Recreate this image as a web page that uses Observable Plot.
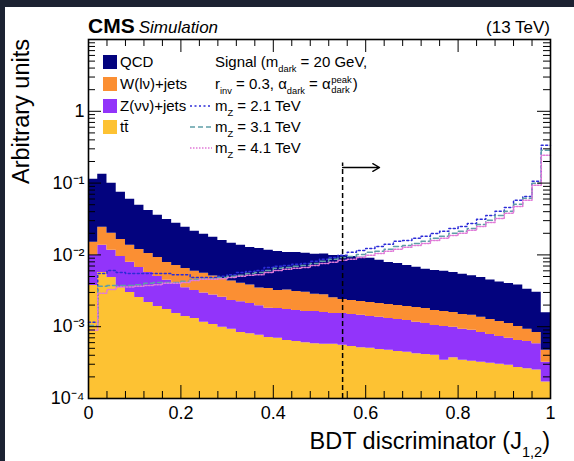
<!DOCTYPE html>
<html><head><meta charset="utf-8">
<script src="https://cdn.jsdelivr.net/npm/d3@7"></script>
<script src="https://cdn.jsdelivr.net/npm/@observablehq/plot@0.6"></script>
<style>
html,body{margin:0;padding:0;background:#1c2232;width:574px;height:461px;overflow:hidden}
#panel{position:absolute;left:5px;top:7px;width:569px;height:454px;background:#fff}
#chart{position:absolute;left:0;top:0}
</style></head><body><div id="panel"></div><div id="chart"></div>
<script>
// ---- data (50 bins on BDT discriminator 0..1) ----
const nBins = 50;
const ttbar = [0.00376,0.0057,0.00485,0.00352,0.0030,0.00256,0.00218,0.00191,0.00174,0.00153,
  0.00139,0.0013,0.00115,0.00107,0.00098,0.00092,0.00083,0.0008,0.00076,0.00071,
  0.00069,0.00064,0.00062,0.0006,0.00058,0.00057,0.00057,0.00055,0.00053,0.00051,
  0.0005,0.00048,0.00047,0.00045,0.00044,0.00042,0.00041,0.0004,0.00034,0.00037,
  0.00034,0.00033,0.00032,0.00031,0.0003,0.00029,0.00027,0.00026,0.00025,0.00017];
const zjets = [0.0061,0.0079,0.0068,0.0060,0.0049,0.0041,0.0035,0.0031,0.0027,0.0025,
  0.0021,0.0019,0.0018,0.0017,0.0016,0.0014,0.0014,0.0013,0.0012,0.0011,
  0.0011,0.0011,0.00106,0.00103,0.00105,0.00101,0.00096,0.00098,0.00095,0.00093,
  0.00089,0.00087,0.00083,0.00081,0.00078,0.00073,0.0007,0.00064,0.00067,0.00061,
  0.00058,0.00056,0.00051,0.00047,0.00043,0.0004,0.00037,0.00036,0.00033,0.00015];
const wjets = [0.0051,0.0106,0.0084,0.0069,0.0057,0.0052,0.0048,0.0042,0.0034,0.0031,
  0.0030,0.0027,0.0026,0.0023,0.0021,0.0020,0.0018,0.0017,0.0015,0.0016,
  0.0014,0.0015,0.0014,0.0014,0.0012,0.0012,0.0010,0.00087,0.00084,0.00081,
  0.00079,0.00076,0.00074,0.00072,0.00069,0.0007,0.00068,0.00064,0.00062,0.0006,
  0.00056,0.00055,0.00052,0.00048,0.00045,0.00042,0.00037,0.0003,0.00025,0.00015];
const qcd = [0.0978,0.1082,0.0793,0.0579,0.0459,0.0371,0.0312,0.0264,0.0234,0.0204,
  0.0177,0.0154,0.0138,0.0125,0.0112,0.0102,0.0096,0.0089,0.0088,0.0082,
  0.0080,0.0076,0.0077,0.0075,0.0074,0.0075,0.0073,0.0074,0.0072,0.0070,
  0.0068,0.0063,0.0058,0.0056,0.0052,0.0049,0.0045,0.0044,0.0043,0.0041,
  0.0039,0.0037,0.0035,0.0032,0.0030,0.0029,0.0028,0.0024,0.0022,0.0011];
const sigMZ21 = [0.00115,0.0055,0.00605,0.00567,0.0055,0.0055,0.0055,0.0055,0.0055,0.00531,
  0.00531,0.00485,0.00485,0.00485,0.00504,0.00531,0.00567,0.00586,0.00605,0.00668,
  0.00696,0.00713,0.00741,0.0076,0.00813,0.00868,0.00923,0.00986,0.01086,0.01156,
  0.0123,0.0131,0.01403,0.01545,0.0159,0.0170,0.01816,0.0199,0.0213,0.0234,
  0.0249,0.0274,0.0313,0.0355,0.0404,0.0459,0.0575,0.0653,0.106,0.336];
const sigMZ31 = [0.00104,0.00366,0.00375,0.00375,0.00375,0.00385,0.00403,0.00412,0.00412,0.00412,
  0.0043,0.00458,0.00467,0.00467,0.00485,0.00504,0.00522,0.0055,0.00568,0.00605,
  0.0065,0.0067,0.00696,0.00714,0.0076,0.00815,0.0087,0.00923,0.0095,0.01015,
  0.01087,0.01123,0.01195,0.0131,0.01356,0.01446,0.01545,0.017,0.01815,0.01997,
  0.02133,0.0234,0.0266,0.0303,0.0355,0.0404,0.0506,0.0615,0.0992,0.287];
const sigMZ41 = [0.00089,0.00293,0.0033,0.00357,0.00357,0.00366,0.00375,0.00385,0.00403,0.00403,
  0.00412,0.0044,0.00458,0.00458,0.00467,0.00485,0.00504,0.00522,0.00531,0.00568,
  0.00605,0.00633,0.0065,0.0067,0.00714,0.0076,0.00788,0.00842,0.0087,0.00923,
  0.00987,0.0105,0.01123,0.01195,0.01276,0.01356,0.01446,0.0159,0.017,0.0187,
  0.020,0.022,0.0249,0.0283,0.0322,0.0379,0.0473,0.0576,0.093,0.244];
const bkgNames = ["t\u0074\u0304", "Z(\u03bd\u03bd)+jets", "W(l\u03bd)+jets", "QCD"]; // bottom -> top
const bkgColors = ["#fdc233", "#9234fa", "#fb8f33", "#03037e"];
const sigColors = ["#2c2cd8", "#5f9ea8", "#e17ad8"];
const sigDash = ["2,2.5", "5,3", "1.5,1.5"];
const xTickValues = [0, 0.2, 0.4, 0.6, 0.8, 1];
const xTickLabels = ["0", "0.2", "0.4", "0.6", "0.8", "1"];
const yTickValues = [1e-4, 1e-3, 1e-2, 1e-1, 1];
const yTickLabels = ["10\u207b\u2074", "10\u207b\u00b3", "10\u207b\u00b2", "10\u207b\u00b9", "1"];
const yDomain = [1e-4, 10];
const cutValue = 0.55;      // BDT working point
const cutTop = 0.19;        // top of the dashed line (arbitrary units)
const arrowEnd = 0.63;
const arrowLevel = 0.165;

// ---- build histogram tables (stacked: ttbar at bottom) ----
const bkgSeries = [ttbar, zjets, wjets, qcd];
const edges = d3.range(nBins + 1).map(i => i / nBins);
const stackRows = [];
bkgSeries.forEach((vals, s) => {
  for (let i = 0; i <= nBins; i++) {
    const b = Math.min(i, nBins - 1);
    let below = 0;
    for (let k = 0; k < s; k++) below += bkgSeries[k][b];
    const lo = s === 0 ? yDomain[0] : below;
    const hi = below + vals[b];
    stackRows.push({series: bkgNames[s], x: edges[i], lo, hi});
  }
});
const sigSeries = [sigMZ21, sigMZ31, sigMZ41];
const sigRows = sigSeries.map(vals => edges.map((x, i) => ({x, v: vals[Math.min(i, nBins - 1)]})));

// tick positions
const xMinor = d3.range(0, 26).map(i => i * 0.04).filter(d => Math.abs(d * 5 - Math.round(d * 5)) > 1e-6);
const yMinor = [];
[1e-4, 1e-3, 1e-2, 1e-1, 1].forEach(dec => { for (let m = 2; m <= 9; m++) yMinor.push(dec * m); });
const yMajor = [1e-4, 1e-3, 1e-2, 1e-1, 1, 10];

const W = 574, H = 461, mL = 88, mR = 24, mT = 39, mB = 63;
const fw = W - mL - mR, fh = H - mT - mB;
const font = "'Liberation Sans', Arial, Helvetica, sans-serif";

const marks = [];
bkgNames.forEach((name, s) => {
  marks.push(Plot.areaY(stackRows.filter(r => r.series === name), {
    x: "x", y1: "lo", y2: "hi", curve: "step-after", fill: bkgColors[s]
  }));
});
sigRows.forEach((rows, j) => {
  marks.push(Plot.line(rows, {x: "x", y: "v", curve: "step-after", stroke: sigColors[j], strokeWidth: 1.5, strokeDasharray: sigDash[j]}));
});
marks.push(
  Plot.ruleX([cutValue], {y1: yDomain[0], y2: cutTop, stroke: "#000", strokeWidth: 1.5, strokeDasharray: "5,3"}),
  Plot.arrow([{x1: cutValue, x2: arrowEnd, y: arrowLevel}], {x1: "x1", x2: "x2", y1: "y", y2: "y", stroke: "#000", strokeWidth: 1.3, headLength: 9}),
  Plot.tickX(xTickValues, {x: d => d, insetTop: fh - 13, stroke: "#000"}),
  Plot.tickX(xTickValues, {x: d => d, insetBottom: fh - 13, stroke: "#000"}),
  Plot.tickX(xMinor, {x: d => d, insetTop: fh - 7, stroke: "#000"}),
  Plot.tickX(xMinor, {x: d => d, insetBottom: fh - 7, stroke: "#000"}),
  Plot.tickY(yMajor, {y: d => d, insetRight: fw - 13, stroke: "#000"}),
  Plot.tickY(yMajor, {y: d => d, insetLeft: fw - 13, stroke: "#000"}),
  Plot.tickY(yMinor, {y: d => d, insetRight: fw - 7, stroke: "#000"}),
  Plot.tickY(yMinor, {y: d => d, insetLeft: fw - 7, stroke: "#000"}),
  Plot.frame({stroke: "#000", strokeWidth: 1.6})
);

const plot = Plot.plot({
  width: W, height: H,
  marginLeft: mL, marginRight: mR, marginTop: mT, marginBottom: mB,
  style: {background: "transparent", fontFamily: font, fontSize: "18px", color: "#000"},
  x: {domain: [0, 1], ticks: xTickValues, tickSize: 0, tickPadding: 8,
      tickFormat: d => xTickLabels[xTickValues.indexOf(d)], label: null},
  y: {type: "log", domain: yDomain, ticks: yTickValues, tickSize: 0, tickPadding: 4,
      tickFormat: d => yTickLabels[yTickValues.indexOf(d)], label: null},
  marks
});
document.getElementById("chart").appendChild(plot);

// ---- texts and legend ----
const svg = d3.select(plot);
const g = svg.append("g").attr("font-family", font).attr("fill", "#000");

function rich(x, y, parts, size, anchor) {
  const t = g.append("text").attr("x", x).attr("y", y).attr("font-size", size)
    .attr("text-anchor", anchor || "start");
  let shift = 0;
  parts.forEach(p => {
    let target = 0, fs = size, txt = p;
    if (typeof p !== "string") {
      if (p.sub !== undefined) { target = size * 0.32; fs = size * 0.62; txt = p.sub; }
      if (p.sup !== undefined) { target = -size * 0.42; fs = size * 0.62; txt = p.sup; }
    }
    t.append("tspan").attr("dy", target - shift).attr("font-size", fs).text(txt);
    shift = target;
  });
  return t;
}

const cms = rich(mL, 33, ["CMS"], 21).attr("font-weight", "bold");
const cmsLen = cms.node().getComputedTextLength();
rich(mL + cmsLen + 4, 33, ["Simulation"], 17).attr("font-style", "italic");
rich(W - mR, 33, ["(13 TeV)"], 17, "end");
rich(W - mR, 449, ["BDT discriminator (J", {sub: "1,2"}, ")"], 23.5, "end");
g.append("text").attr("transform", "translate(29,39) rotate(-90)").attr("text-anchor", "end")
  .attr("font-size", 23.5).text("Arbitrary units");

// legend: backgrounds (top of stack first)
const rowsY = [62, 84, 106, 127, 148];
const legOrder = [3, 2, 1, 0];
legOrder.forEach((s, r) => {
  g.append("rect").attr("x", 103).attr("y", rowsY[r] - 7).attr("width", 14).attr("height", 14).attr("fill", bkgColors[s]);
});
rich(120, rowsY[0] + 5, ["QCD"], 15);
rich(120, rowsY[1] + 5, ["W(l\u03bd)+jets"], 15);
rich(120, rowsY[2] + 5, ["Z(\u03bd\u03bd)+jets"], 15);
rich(120, rowsY[3] + 5, ["t\u0074\u0304"], 15);

rich(215, rowsY[0] + 5, ["Signal (m", {sub: "dark"}, " = 20 GeV,"], 15);
const r2 = rich(215, rowsY[1] + 5, ["r", {sub: "inv"}, " = 0.3, \u03b1", {sub: "dark"}, " = \u03b1"], 15);
const len = r2.node().getComputedTextLength();
const pk = rich(215 + len + 0.5, rowsY[1] - 1, ["peak"], 9.5);
const dk = rich(215 + len + 0.5, rowsY[1] + 9, ["dark"], 9.5);
const wmax = Math.max(pk.node().getComputedTextLength(), dk.node().getComputedTextLength());
rich(215 + len + wmax + 1.5, rowsY[1] + 5, [")"], 15);

const sigLabels = ["2.1", "3.1", "4.1"];
sigLabels.forEach((m, j) => {
  g.append("line").attr("x1", 190).attr("x2", 212).attr("y1", rowsY[2 + j]).attr("y2", rowsY[2 + j])
    .attr("stroke", sigColors[j]).attr("stroke-width", 1.5).attr("stroke-dasharray", sigDash[j]);
  rich(215, rowsY[2 + j] + 5, ["m", {sub: "Z"}, " = " + m + " TeV"], 15);
});
</script></body></html>
